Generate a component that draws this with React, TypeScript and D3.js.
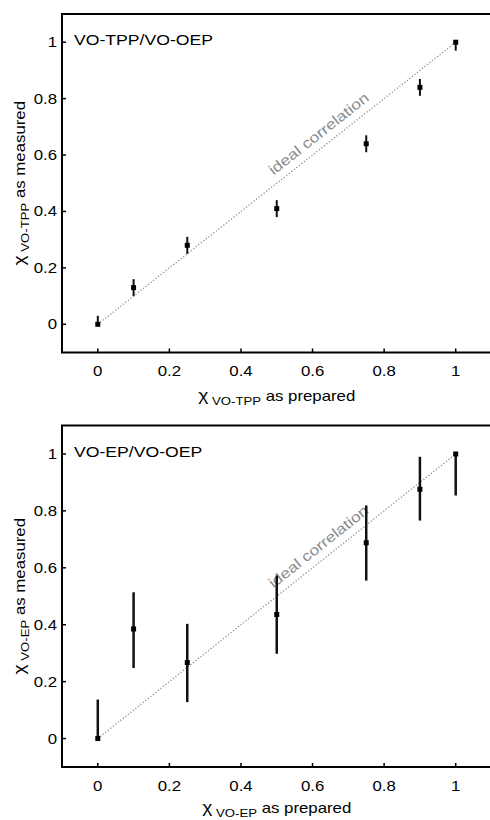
import * as d3 from "d3";

const W = 490;
const H = 820;
const FONT = "'Liberation Sans', Arial, Helvetica, sans-serif";
// glyphs in the reference are about 1.2x wider than tall
const STRETCH = 1.2;

const tickValues = [0, 0.2, 0.4, 0.6, 0.8, 1];
const tickLabels = ["0", "0.2", "0.4", "0.6", "0.8", "1"];
const prepared = [0, 0.1, 0.25, 0.5, 0.75, 0.9, 1];

// VO-TPP / VO-OEP
const tppMeasured = [0, 0.13, 0.28, 0.41, 0.64, 0.84, 1.0];
const tppLow = [0, 0.1, 0.25, 0.38, 0.61, 0.81, 0.97];
const tppHigh = [0.03, 0.16, 0.31, 0.44, 0.67, 0.87, 1.0];

// VO-EP / VO-OEP
const epMeasured = [0, 0.385, 0.267, 0.436, 0.688, 0.876, 1.0];
const epLow = [0, 0.248, 0.128, 0.298, 0.555, 0.766, 0.854];
const epHigh = [0.137, 0.514, 0.403, 0.573, 0.819, 0.99, 1.0];

function SText({ x, y, rot = 0, size = 14, anchor = "start", fill = "#000", children }: any) {
  return (
    <text
      transform={`translate(${x},${y}) rotate(${rot}) scale(${STRETCH},1)`}
      fontSize={size}
      textAnchor={anchor}
      fill={fill}
      fontFamily={FONT}
    >
      {children}
    </text>
  );
}

function Panel({ top, bottom, title, sub, measured, low, high, barWidth, labelGap }: any) {
  const left = 62;
  const right = 491.5;
  const x = d3.scaleLinear().domain([-0.1, 1.1]).range([left, right]);
  const y = d3.scaleLinear().domain([-0.1, 1.1]).range([bottom, top]);

  const ideal = d3.line<number>().x(d => x(d)).y(d => y(d))([0, 1]) || "";

  // label along the ideal line
  const dx = x(1) - x(0);
  const dy = y(1) - y(0);
  const len = Math.hypot(dx, dy);
  const ang = (Math.atan2(dy, dx) * 180) / Math.PI;
  const nx = dy / len;
  const ny = -dx / len;
  const lx = x(0.505) + nx * 8;
  const ly = y(0.505) + ny * 8;

  const cx = (left + right) / 2;
  const cy = (top + bottom) / 2;

  return (
    <g>
      <path d={ideal} fill="none" stroke="#8c8c8c" strokeWidth={1.3} strokeDasharray="1.2 2" />
      <SText x={lx} y={ly} rot={ang} size={14.5} fill="#8c8c8c">ideal correlation</SText>

      {prepared.map((p, i) => (
        <g key={i}>
          <line x1={x(p)} x2={x(p)} y1={y(low[i])} y2={y(high[i])} stroke="#111" strokeWidth={barWidth} />
          <rect x={x(p) - 2.5} y={y(measured[i]) - 2.5} width={5} height={5} fill="#000" />
        </g>
      ))}

      <rect x={left} y={top} width={right - left} height={bottom - top} fill="none" stroke="#000" strokeWidth={2} />

      {tickValues.map((t, i) => (
        <g key={"x" + i}>
          <line x1={x(t)} x2={x(t)} y1={bottom} y2={bottom - 4} stroke="#000" strokeWidth={1.5} />
          <SText x={x(t)} y={bottom + 23.5} anchor="middle">{tickLabels[i]}</SText>
        </g>
      ))}
      {tickValues.map((t, i) => (
        <g key={"y" + i}>
          <line x1={left} x2={left + 4} y1={y(t)} y2={y(t)} stroke="#000" strokeWidth={1.5} />
          <SText x={57} y={y(t) + 5} anchor="end">{tickLabels[i]}</SText>
        </g>
      ))}

      <SText x={74} y={top + 31} size={14.7}>{title}</SText>

      <SText x={cx} y={bottom + labelGap} anchor="middle">
        <tspan fontSize={16}>χ</tspan>
        <tspan fontSize={11} dy={4}>{" " + sub}</tspan>
        <tspan dy={-4}>{" as prepared"}</tspan>
      </SText>
      <SText x={25} y={cy} rot={-90} anchor="middle">
        <tspan fontSize={16}>χ</tspan>
        <tspan fontSize={11} dy={4}>{" " + sub}</tspan>
        <tspan dy={-4}>{" as measured"}</tspan>
      </SText>
    </g>
  );
}

export default function App() {
  return (
    <svg width={W} height={H} style={{ position: "absolute", left: 0, top: 0, background: "#fff" }}>
      <rect width={W} height={H} fill="#fff" />
      <Panel top={14} bottom={352.5} title="VO-TPP/VO-OEP" sub="VO-TPP" labelGap={48}
        measured={tppMeasured} low={tppLow} high={tppHigh} barWidth={2} />
      <Panel top={425.5} bottom={767} title="VO-EP/VO-OEP" sub="VO-EP" labelGap={45.5}
        measured={epMeasured} low={epLow} high={epHigh} barWidth={2.5} />
    </svg>
  );
}
